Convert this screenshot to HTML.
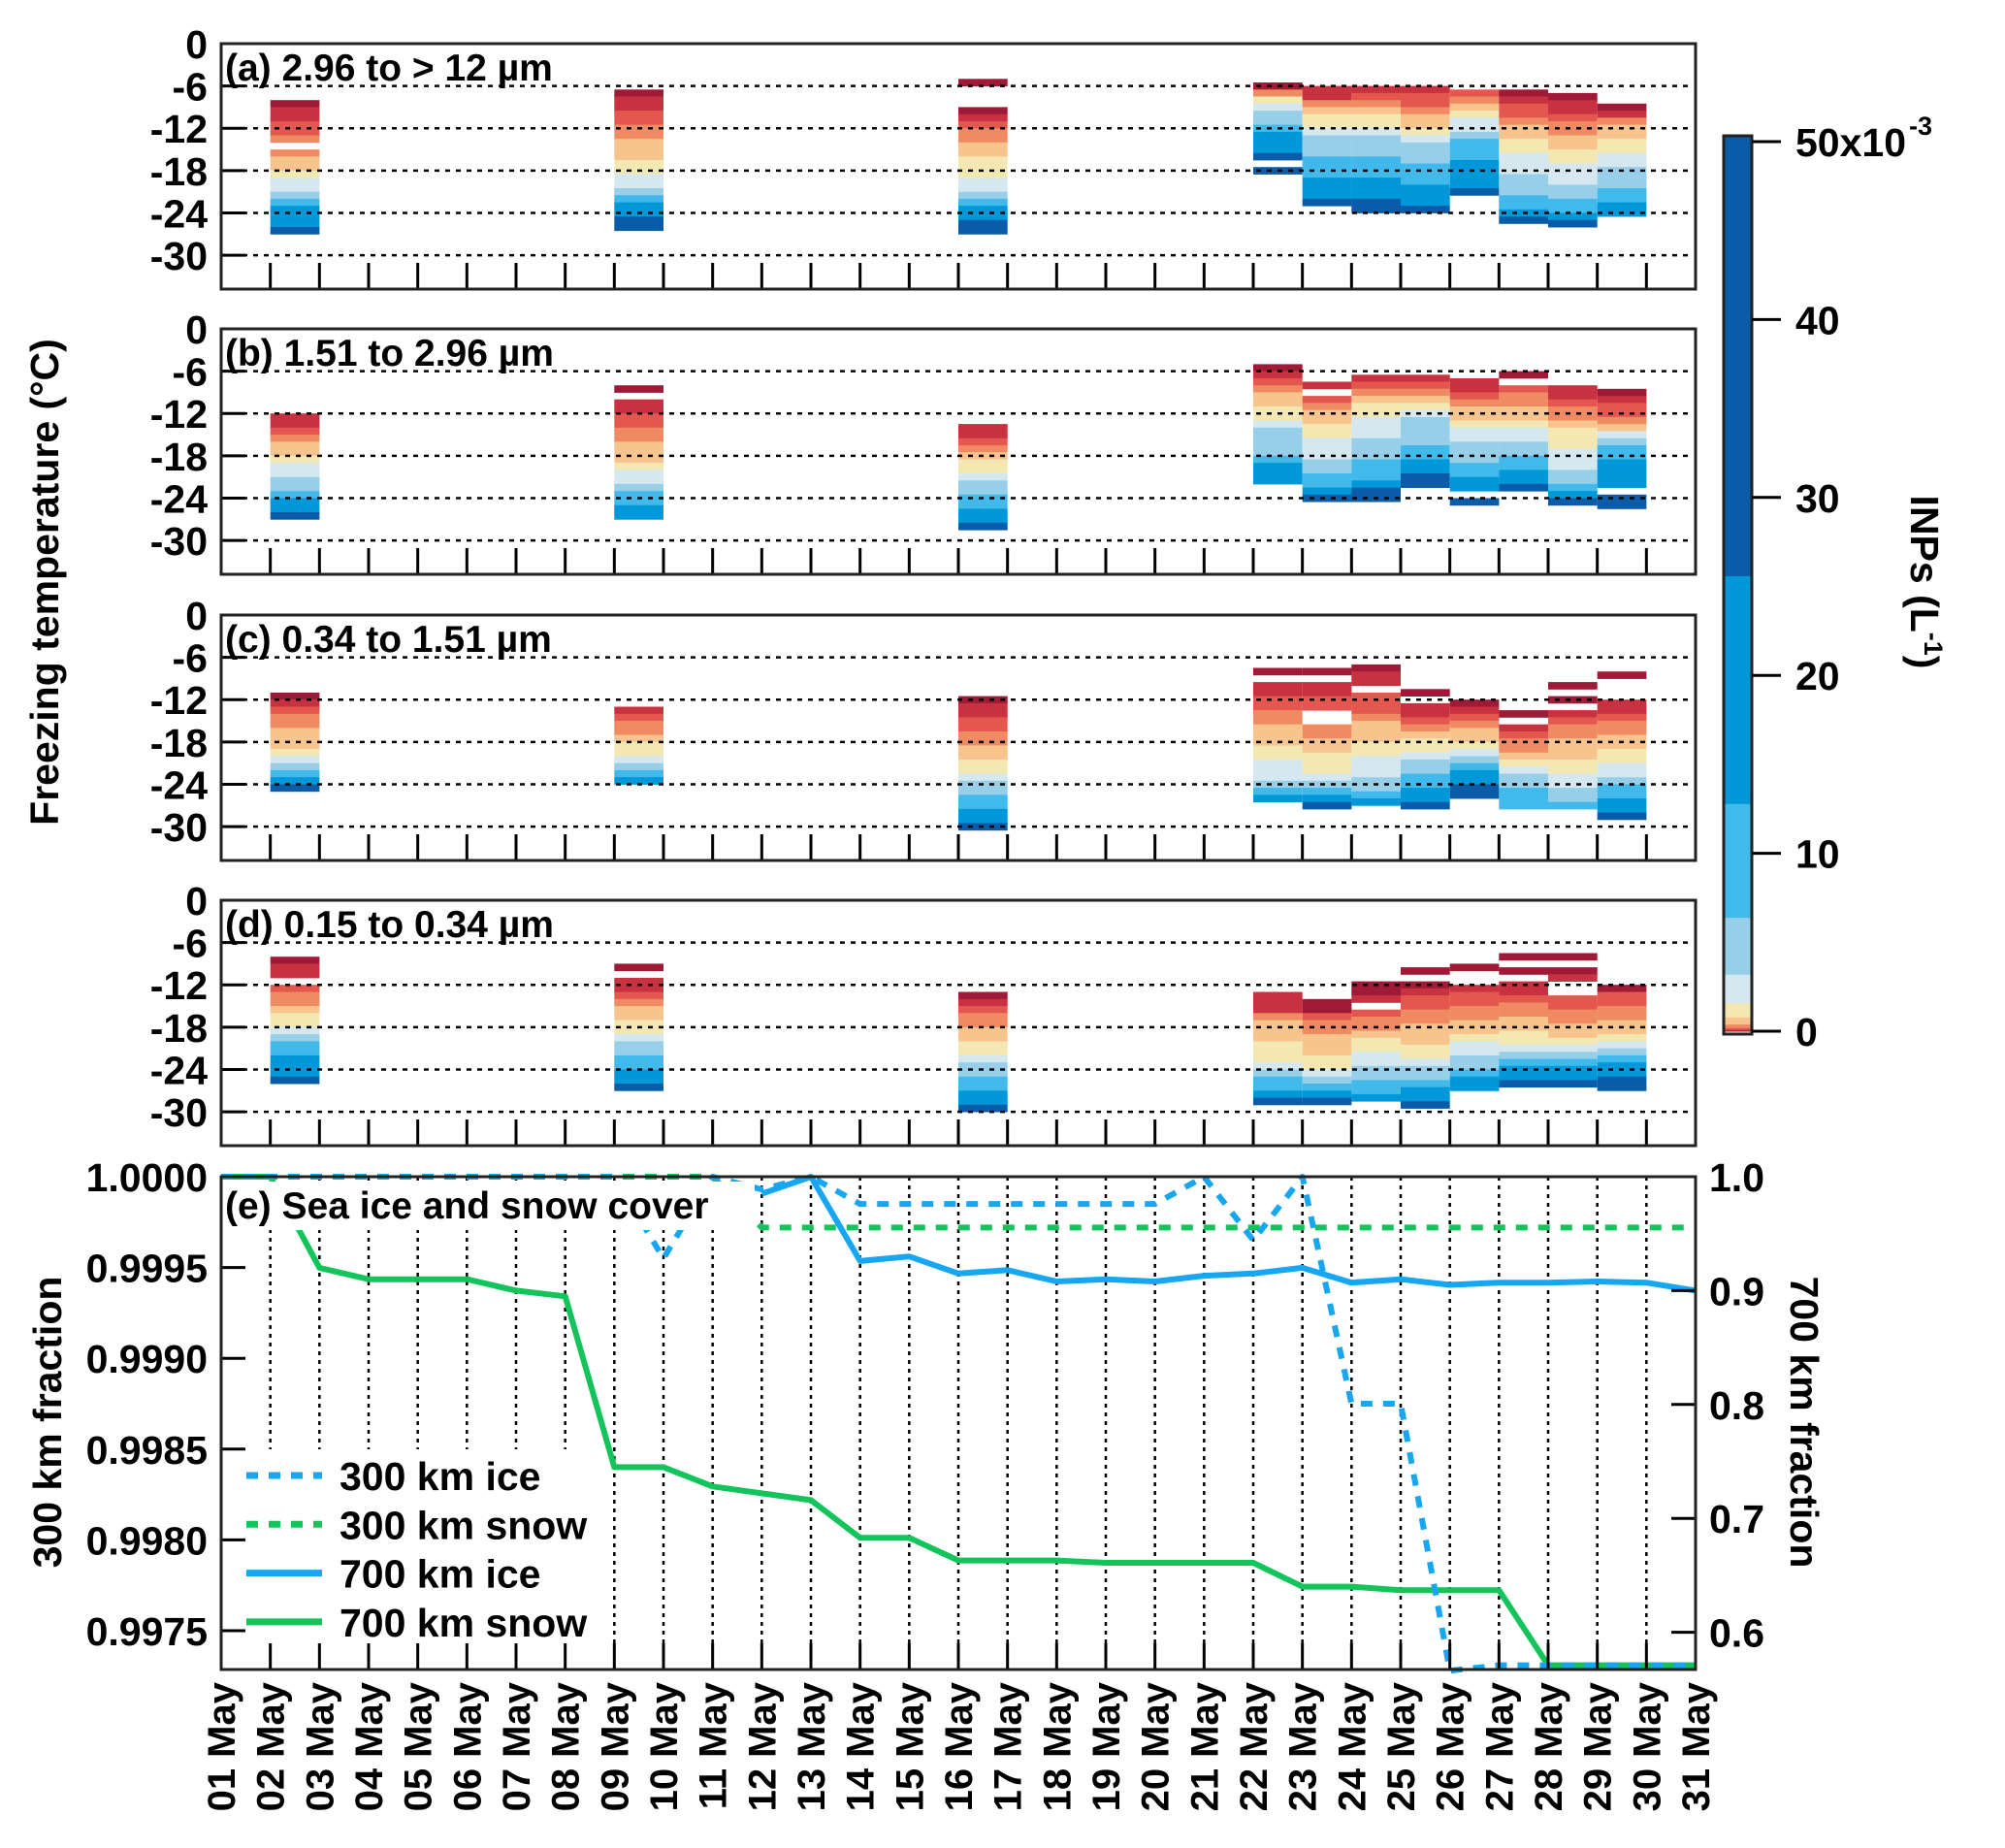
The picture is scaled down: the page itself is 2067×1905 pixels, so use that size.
<!DOCTYPE html>
<html><head><meta charset="utf-8"><title>INP spectra and sea ice/snow cover</title>
<style>
html,body{margin:0;padding:0;background:#fff;}
svg{display:block;font-family:"Liberation Sans",Arial,sans-serif;font-weight:bold;}
</style></head>
<body>
<svg id="fig" xmlns="http://www.w3.org/2000/svg" width="2067" height="1905" viewBox="0 0 2067 1905">
<rect x="0" y="0" width="2067" height="1905" fill="#fff"/>
</svg>
<script>
// ---------------- DATA ----------------
const sampleDays = [2, 9, 16, 22, 23, 24, 25, 26, 27, 28, 29];
const panelTitles = ["(a) 2.96 to > 12 \u00b5m", "(b) 1.51 to 2.96 \u00b5m", "(c) 0.34 to 1.51 \u00b5m", "(d) 0.15 to 0.34 \u00b5m"];
const tempTicks = [0, -6, -12, -18, -24, -30];
const aTop = [-8, -6.5, -5, -5.5, -6, -6, -6, -6.5, -6.5, -7, -8.5];
const bTop = [-12, -8, -13.5, -5, -7.5, -6.5, -6.5, -7, -6, -8, -8.5];
const cTop = [-11, -13, -11.5, -7.5, -7.5, -7, -10.5, -12, -13.5, -9.5, -8];
const dTop = [-8, -9, -13, -13, -14, -11.5, -9.5, -9, -7.5, -7.5, -12];
const aVals = [
 [.03,.07,.07,.15,.15,.3,null,.3,.6,.6,1.2,2.4,2.4,4.8,9,18,18,18,35],
 [.03,.07,.07,.15,.15,.3,.3,.6,.6,.6,1.2,1.2,2.4,2.4,4.8,9,18,18,35,35],
 [.03,null,null,null,.03,.07,.15,.3,.3,.6,.6,1.2,1.2,1.2,2.4,2.4,4.8,9,18,18,35,35],
 [.03,.3,1.2,2.4,4.8,4.8,9,18,18,18,35,null,35],
 [.07,.07,.3,.6,1.2,1.2,2.4,4.8,4.8,4.8,9,9,9,18,18,18,35],
 [.07,.15,.3,.6,1.2,1.2,2.4,4.8,4.8,4.8,9,9,9,18,18,18,35,35],
 [.07,.15,.15,.3,.6,.6,1.2,2.4,4.8,4.8,4.8,9,9,9,18,18,18,35],
 [.15,.3,.6,1.2,2.4,2.4,4.8,9,9,9,18,18,18,18,35],
 [.03,.07,.15,.15,.3,.6,.6,1.2,1.2,2.4,2.4,2.4,4.8,4.8,4.8,9,9,18,35],
 [.03,.07,.07,.15,.3,.3,.6,.6,1.2,1.2,2.4,2.4,2.4,4.8,4.8,9,9,18,35],
 [.03,.07,.3,.6,.6,1.2,1.2,2.4,2.4,4.8,4.8,4.8,9,9,18,18]
];
const bVals = [
 [.07,.07,.15,.3,.6,.6,1.2,2.4,2.4,4.8,4.8,9,18,18,35],
 [.03,null,.07,.07,.15,.15,.3,.3,.6,.6,.6,1.2,2.4,2.4,4.8,9,9,18,18],
 [.07,.07,.15,.3,.6,1.2,1.2,2.4,4.8,4.8,9,9,18,18,35],
 [.03,.07,.15,.3,.6,.6,1.2,1.2,2.4,4.8,4.8,4.8,4.8,9,18,18,18],
 [.07,null,.15,.3,.6,.6,1.2,1.2,2.4,2.4,2.4,4.8,4.8,9,9,18,35],
 [.07,.15,.3,.6,1.2,1.2,2.4,2.4,2.4,4.8,4.8,4.8,9,9,9,18,35,35],
 [.07,.15,.3,.6,1.2,2.4,4.8,4.8,4.8,4.8,9,9,18,18,35,35],
 [.07,.07,.15,.3,.6,.6,1.2,2.4,2.4,4.8,4.8,4.8,9,9,18,18,null,35],
 [.03,null,.15,.3,.3,.6,.6,1.2,2.4,2.4,4.8,4.8,9,9,18,18,35],
 [.07,.07,.15,.3,.3,.6,1.2,1.2,1.2,2.4,2.4,2.4,4.8,4.8,9,18,35],
 [.03,.07,.15,.15,.3,.6,2.4,4.8,9,9,18,18,18,18,null,35,35]
];
const cVals = [
 [.03,.07,.15,.3,.3,.6,.6,.6,1.2,2.4,4.8,9,18,35],
 [.07,.15,.3,.3,.6,1.2,1.2,2.4,4.8,9,18],
 [.03,.07,.07,.15,.15,.3,.3,.6,.6,1.2,1.2,2.4,4.8,4.8,9,9,18,18,35],
 [.03,null,.07,.07,.15,.15,.3,.3,.6,.6,.6,1.2,1.2,2.4,2.4,2.4,4.8,9,18],
 [.03,null,.07,.07,.15,.15,null,null,.3,.3,.6,.6,1.2,1.2,1.2,2.4,4.8,9,18,35],
 [.03,.07,.07,null,.15,.15,.15,.3,.6,.6,.6,1.2,1.2,2.4,2.4,2.4,4.8,4.8,9,18],
 [.03,null,.07,.07,.15,.3,.6,1.2,1.2,2.4,4.8,4.8,9,9,18,18,35],
 [.03,.07,.15,.3,.6,.6,1.2,2.4,4.8,9,18,18,35,35],
 [.03,null,.07,.15,.3,.3,.6,1.2,2.4,4.8,4.8,9,9,9],
 [.03,null,.03,null,.07,.15,.3,.3,.6,.6,.6,1.2,1.2,2.4,2.4,4.8,4.8,9],
 [.03,null,null,null,.07,.07,.15,.3,.3,.6,.6,1.2,1.2,2.4,2.4,4.8,9,9,18,18,35]
];
const dVals = [
 [.03,.07,.07,null,.15,.3,.3,.6,1.2,1.2,2.4,4.8,9,9,18,18,18,35],
 [.03,null,.07,.07,.15,.3,.6,.6,1.2,1.2,2.4,4.8,4.8,9,9,18,18,35],
 [.03,.07,.15,.3,.3,.6,.6,1.2,1.2,2.4,4.8,4.8,9,9,18,18,35],
 [.07,.07,.07,.3,.6,.6,.6,1.2,1.2,1.2,2.4,4.8,9,9,18,35],
 [.03,.03,.15,.3,.3,.6,.6,.6,1.2,1.2,2.4,4.8,9,18,35],
 [.03,.03,.07,null,.15,.3,.3,.6,1.2,1.2,2.4,2.4,4.8,4.8,9,9,18],
 [.03,null,.03,.07,.15,.15,.3,.3,.6,.6,.6,1.2,1.2,2.4,4.8,4.8,9,18,18,35],
 [.03,null,null,.07,.15,.15,.3,.3,.6,.6,1.2,2.4,2.4,4.8,4.8,9,18,18],
 [.03,null,.03,null,.07,.07,.15,.3,.3,.6,.6,1.2,1.2,2.4,4.8,9,18,18,35],
 [.03,null,.03,.07,null,null,.15,.15,.3,.3,.6,.6,1.2,2.4,4.8,9,18,18,35],
 [.03,.15,.15,.3,.3,.6,.6,1.2,2.4,4.8,9,18,18,35,35]
];
const colorEdges = [0.05, 0.1, 0.2, 0.4, 0.8, 1.6, 3.2, 6.4, 12.8, 25.6];
const colorTicks = [0, 10, 20, 30, 40, 50];
const ice300 = [1,1,1,1,1,1,1,1,1,0.99955,1,0.99993,1,0.99985,0.99985,0.99985,0.99985,0.99985,0.99985,0.99985,1,0.99965,1,0.99875,0.99875,0.99728,0.99731,0.99731,0.99731,0.99731,0.99731];
const snow300 = [1,1,1,1,1,1,1,1,1,1,1,0.99972,0.99972,0.99972,0.99972,0.99972,0.99972,0.99972,0.99972,0.99972,0.99972,0.99972,0.99972,0.99972,0.99972,0.99972,0.99972,0.99972,0.99972,0.99972,0.99972];
const ice700 = [null,null,null,null,null,null,null,null,null,null,null,0.985,1.0,0.926,0.93,0.915,0.918,0.908,0.91,0.908,0.913,0.915,0.92,0.907,0.91,0.905,0.907,0.907,0.908,0.907,0.9];
const snow700 = [1,1,0.92,0.91,0.91,0.91,0.90,0.895,0.745,0.745,0.728,0.722,0.716,0.683,0.683,0.663,0.663,0.663,0.661,0.661,0.661,0.661,0.64,0.64,0.637,0.637,0.637,0.571,0.571,0.571,0.571];
const leftTicks = [1.0000, 0.9995, 0.9990, 0.9985, 0.9980, 0.9975];
const leftTickLabels = ["1.0000","0.9995","0.9990","0.9985","0.9980","0.9975"];
const rightTicks = [1.0, 0.9, 0.8, 0.7, 0.6];
const rightTickLabels = ["1.0","0.9","0.8","0.7","0.6"];
const dayLabels = ["01","02","03","04","05","06","07","08","09","10","11","12","13","14","15","16","17","18","19","20","21","22","23","24","25","26","27","28","29","30","31"];

// ---------------- LAYOUT ----------------
const NS = "http://www.w3.org/2000/svg";
const svg = document.getElementById("fig");
const L = 228, R = 1748;
const panelTopsY = [45, 339, 634, 928];
const PH = 253;
const pxPerDeg = 7.27;
const colors = ["#9e1a36","#c8313f","#e4574f","#ef8a62","#f8c48e","#f3e7b2","#d5e8ef","#97cfe9","#41b9eb","#0098d9","#0a5ca8"];
function xDay(d){ return L + (d - 1) * (R - L) / 30; }
function yTemp(top, t){ return top + (-t) * pxPerDeg; }
function colorFor(v){ let k = 0; while (k < colorEdges.length && v >= colorEdges[k]) k++; return colors[k]; }
function mk(tag, attrs, parent){ const e = document.createElementNS(NS, tag); for (const k in attrs) e.setAttribute(k, attrs[k]); (parent || svg).appendChild(e); return e; }

const tops = [aTop, bTop, cTop, dTop];
const vals = [aVals, bVals, cVals, dVals];
const panelLetters = ["a","b","c","d"];

for (let p = 0; p < 4; p++) {
  const T = panelTopsY[p];
  const g = mk("g", {});
  
  
  for (let s = 0; s < sampleDays.length; s++) {
    const d = sampleDays[s];
    const x0 = xDay(d), x1 = xDay(d + 1);
    const arr = vals[p][s];
    for (let i = 0; i < arr.length; i++) {
      if (arr[i] === null) continue;
      const t0 = tops[p][s] - i;
      const y0 = yTemp(T, t0), y1 = yTemp(T, t0 - 1);
      const r = mk("rect", {x: x0.toFixed(1), y: y0.toFixed(1), width: (x1 - x0).toFixed(1), height: (y1 - y0 + 0.4).toFixed(1), fill: colorFor(arr[i])}, g);
      
      
    }
  }
  for (let k = 1; k < tempTicks.length; k++) {
    const y = yTemp(T, tempTicks[k]);
    const ln = mk("line", {x1: L, x2: R - 6, y1: y, y2: y, stroke: "#000", "stroke-width": 2.5, "stroke-dasharray": "5 6"}, g);
    
    
  }
  const tb = mk("rect", {x: L + 2, y: T + 2, width: 360, height: 40, fill: "#fff"}, g);
  
  
  const tt = mk("text", {x: L + 4, y: T + 38, "font-size": 39, fill: "#000"}, g);
  tt.textContent = panelTitles[p];
  
  
  for (let k = 0; k < tempTicks.length; k++) {
    const y = yTemp(T, tempTicks[k]);
    if (k > 0) {
      const tk = mk("line", {x1: L, x2: L + 25, y1: y, y2: y, stroke: "#000", "stroke-width": 3}, g);
      
      
    }
    const lb = mk("text", {x: 214, y: y + 15, "font-size": 41, "text-anchor": "end", fill: "#000"}, g);
    lb.textContent = String(tempTicks[k]);
    
    
  }
  for (let d = 2; d <= 30; d++) {
    const tk = mk("line", {x1: xDay(d), x2: xDay(d), y1: T + PH, y2: T + PH - 27, stroke: "#000", "stroke-width": 3}, g);
    
    
  }
  const fr = mk("rect", {x: L, y: T, width: R - L, height: PH, fill: "none", stroke: "#222", "stroke-width": 3}, g);
  
  
}

const yt = mk("text", {x: 0, y: 0, "font-size": 41, "text-anchor": "middle", transform: "translate(60,600) rotate(-90)"});
yt.textContent = "Freezing temperature (\u00b0C)";



// ---------------- COLORBAR ----------------
const CB = {x: 1777, w: 29, y50: 146, y0: 1063};
function yCb(v){ return CB.y0 - (v / 50) * (CB.y0 - CB.y50); }
const cbg = mk("g", {});


const cbEdges = [0].concat(colorEdges).concat([50]);
for (let k = 0; k < colors.length; k++) {
  const ya = yCb(cbEdges[k + 1]), yb = yCb(cbEdges[k]);
  const r = mk("rect", {x: CB.x, y: ya - (k === colors.length - 1 ? 6 : 0), width: CB.w, height: yb - ya + (k === colors.length - 1 ? 6 : 0) + 0.5, fill: colors[k]}, cbg);
  
  
}
const cbf = mk("rect", {x: CB.x, y: yCb(50) - 6, width: CB.w, height: yCb(0) - yCb(50) + 9, fill: "none", stroke: "#222", "stroke-width": 3}, cbg);


for (let k = 0; k < colorTicks.length; k++) {
  const y = yCb(colorTicks[k]);
  const tk = mk("line", {x1: CB.x + CB.w, x2: CB.x + CB.w + 30, y1: y, y2: y, stroke: "#000", "stroke-width": 3}, cbg);
  
  
  const lb = mk("text", {x: 1851, y: y + 15, "font-size": 41, fill: "#000"}, cbg);
  lb.textContent = colorTicks[k] === 50 ? "50x10" : String(colorTicks[k]);
  
  
  if (colorTicks[k] === 50) {
    const sup = mk("text", {x: 1968, y: y - 7, "font-size": 27, fill: "#000"}, cbg);
    sup.textContent = "-3";
    
    
  }
}
const cbt = mk("text", {x: 0, y: 0, "font-size": 41, "text-anchor": "middle", transform: "translate(1970,600) rotate(90)"});
cbt.innerHTML = 'INPs (L<tspan font-size="27" dy="-14">-1</tspan><tspan dy="14">)</tspan>';



// ---------------- PANEL E ----------------
const ET = 1213, EB = 1721;
function yLeft(v){ return ET + (1 - v) / 0.0005 * 93.6; }
function yRight(v){ return ET + (1 - v) / 0.1 * 117.4; }
const eg = mk("g", {});


for (let d = 2; d <= 30; d++) {
  const gl = mk("line", {x1: xDay(d), x2: xDay(d), y1: ET, y2: EB, stroke: "#000", "stroke-width": 2.5, "stroke-dasharray": "4 5"}, eg);
  
  
}
const m2 = mk("rect", {x: L + 2, y: 1494, width: 400, height: 200, fill: "#fff"}, eg);



function seriesPath(arr, yf){
  let dstr = "", pen = false;
  for (let i = 0; i < arr.length; i++) {
    if (arr[i] === null) { pen = false; continue; }
    dstr += (pen ? "L" : "M") + xDay(i + 1).toFixed(1) + " " + yf(arr[i]).toFixed(1) + " ";
    pen = true;
  }
  return dstr;
}
const series = [
  {arr: snow700, yf: yRight, color: "#12c45a", dash: null, name: "series-700km-snow"},
  {arr: ice700, yf: yRight, color: "#16a6f2", dash: null, name: "series-700km-ice"},
  {arr: snow300, yf: yLeft, color: "#12c45a", dash: "12 11", name: "series-300km-snow"},
  {arr: ice300, yf: yLeft, color: "#16a6f2", dash: "12 11", name: "series-300km-ice"}
];
for (const s of series) {
  const a = {d: seriesPath(s.arr, s.yf), fill: "none", stroke: s.color, "stroke-width": 6, "stroke-linejoin": "round"};
  if (s.dash) a["stroke-dasharray"] = s.dash;
  const pth = mk("path", a, eg);
  
  
}
const m1 = mk("rect", {x: L + 2, y: ET + 5, width: 548, height: 50, fill: "#fff"}, eg);


const et = mk("text", {x: L + 4, y: ET + 43, "font-size": 39, fill: "#000"}, eg);
et.textContent = "(e) Sea ice and snow cover";



const legItems = [
  {label: "300 km ice", color: "#16a6f2", dash: "12 11"},
  {label: "300 km snow", color: "#12c45a", dash: "12 11"},
  {label: "700 km ice", color: "#16a6f2", dash: null},
  {label: "700 km snow", color: "#12c45a", dash: null}
];
for (let i = 0; i < legItems.length; i++) {
  const y = 1521 + i * 50.3;
  const lg = mk("g", {}, eg);
  
  
  const a = {x1: 254, x2: 332, y1: y, y2: y, stroke: legItems[i].color, "stroke-width": 7};
  if (legItems[i].dash) a["stroke-dasharray"] = legItems[i].dash;
  const ls = mk("line", a, lg);
  
  
  const lt = mk("text", {x: 350, y: y + 15, "font-size": 41, fill: "#000"}, lg);
  lt.textContent = legItems[i].label;
  
  
}
for (let k = 0; k < leftTicks.length; k++) {
  const y = yLeft(leftTicks[k]);
  if (k > 0) {
    const tk = mk("line", {x1: L, x2: L + 25, y1: y, y2: y, stroke: "#000", "stroke-width": 3}, eg);
    
    
  }
  const lb = mk("text", {x: 214, y: y + 15, "font-size": 41, "text-anchor": "end", fill: "#000"}, eg);
  lb.textContent = leftTickLabels[k];
  
  
}
for (let k = 0; k < rightTicks.length; k++) {
  const y = yRight(rightTicks[k]);
  if (k > 0) {
    const tk = mk("line", {x1: R, x2: R - 25, y1: y, y2: y, stroke: "#000", "stroke-width": 3}, eg);
    
    
  }
  const lb = mk("text", {x: 1762, y: y + 15, "font-size": 41, fill: "#000"}, eg);
  lb.textContent = rightTickLabels[k];
  
  
}
for (let d = 2; d <= 30; d++) {
  const tk = mk("line", {x1: xDay(d), x2: xDay(d), y1: EB, y2: EB - 27, stroke: "#000", "stroke-width": 3}, eg);
  
  
}
const ef = mk("rect", {x: L, y: ET, width: R - L, height: EB - ET, fill: "none", stroke: "#222", "stroke-width": 3}, eg);


for (let i = 0; i < dayLabels.length; i++) {
  const x = xDay(i + 1);
  const lb = mk("text", {x: 0, y: 0, "font-size": 40, "text-anchor": "end", transform: "translate(" + (x + 14).toFixed(1) + ",1734) rotate(-90)", fill: "#000"});
  lb.textContent = dayLabels[i] + " May";
  
  
}
const lt1 = mk("text", {x: 0, y: 0, "font-size": 41, "text-anchor": "middle", transform: "translate(63,1466) rotate(-90)"});
lt1.textContent = "300 km fraction";


const rt1 = mk("text", {x: 0, y: 0, "font-size": 41, "text-anchor": "middle", transform: "translate(1846,1466) rotate(90)"});
rt1.textContent = "700 km fraction";


</script>
</body></html>
